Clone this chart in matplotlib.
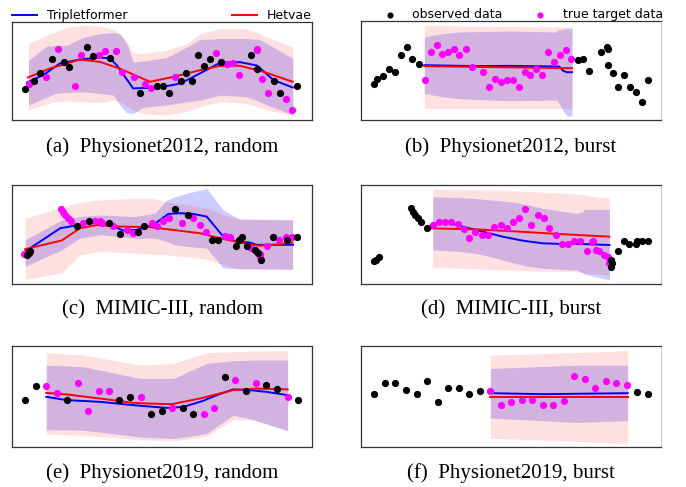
import matplotlib
matplotlib.use("Agg")
import matplotlib.pyplot as plt
import numpy as np

# ---- (a) Physionet2012, random ----
a_obs_t = [-0.6, 1, 2, 4, 6, 7, 10, 11, 14, 19, 22, 23, 24, 26, 27, 28, 29, 30, 31, 33, 38, 39.1, 42, 43, 46]
a_obs_y = [3.12, 4.0, 4.81, 6.27, 5.93, 5.36, 7.42, 6.51, 6.34, 2.71, 3.46, 3.46, 2.71, 4.0, 4.81, 4.0,
           6.68, 5.53, 6.27, 5.93, 6.68, 5.19, 4.0, 2.71, 3.46]
a_tgt_t = [0, 3, 5, 8, 9, 12, 13, 15, 16, 18, 20, 21, 25, 32, 34, 35, 36, 39, 39.1, 40, 41, 44, 45]
a_tgt_y = [3.63, 4.41, 7.22, 3.46, 6.68, 6.68, 7.05, 7.05, 4.92, 4.41, 3.63, 3.22, 4.41, 6.85, 5.76, 5.86,
           4.61, 7.12, 7.29, 4.2, 2.71, 2.14, 1.02]
a_blue_t = [-0.26, 2.49, 5.34, 8.77, 12.2, 13.9, 15.1, 17.9, 20.8, 23.6, 25.3, 27.1, 29.3, 32.8, 36.2, 39.1, 41.9, 45.2]
a_blue_y = [3.83, 4.58, 5.76, 6.17, 6.37, 6.3, 5.59, 3.22, 3.29, 3.46, 3.64, 4.07, 4.75, 5.86, 5.9, 5.56, 4.07, 3.32]
a_red_t = [-0.1, 3.63, 8.77, 12.2, 15.6, 20.8, 24.8, 29.3, 32.8, 36.2, 40.2, 45.2]
a_red_y = [4.34, 5.25, 6.17, 5.93, 5.25, 3.90, 4.41, 5.08, 5.53, 5.53, 4.92, 3.90]
a_band_t = [0, 3.06, 4.54, 6.49, 9.34, 12.2, 14.5, 15.6, 16.8, 17.9, 19.6, 23.6, 27.1, 29.3, 32.8, 37.3, 39.6, 40.8, 45.2]
a_bhi = [6.10, 7.53, 7.59, 7.63, 8.41, 8.81, 8.92, 8.81, 7.80, 5.90, 6.03, 6.37, 7.46, 8.20, 8.31, 8.31, 8.20, 7.80, 6.27]
a_blo = [1.53, 2.31, 2.71, 2.81, 2.88, 2.71, 2.54, 1.53, 0.75, 0.68, 1.29, 1.53, 1.86, 2.03, 2.54, 2.37, 1.86, 1.53, 0.51]
a_rhi = [7.80, 8.64, 8.98, 9.42, 9.66, 9.56, 9.22, 8.81, 7.97, 6.85, 6.78, 7.12, 7.80, 8.81, 9.32, 9.32, 8.81, 8.47, 7.46]
a_rlo = [1.02, 1.63, 1.86, 1.93, 1.86, 1.76, 2.03, 1.86, 1.42, 1.02, 0.61, 0.51, 0.85, 1.36, 1.86, 1.69, 1.29, 1.02, 0.51]

# ---- (b) Physionet2012, burst ----
b_obs_t = [0, 0.5, 1.5, 2.56, 3.5, 4.5, 5.57, 6.5, 7.56, 34.7, 35.6, 36.6, 38.6, 39.7, 39.8, 39.9, 40.6,
           41.6, 42.6, 43.6, 44.6, 45.6, 46.6]
b_obs_y = [3.62, 4.13, 4.46, 5.17, 4.87, 6.54, 7.38, 6.21, 5.70, 6.04, 6.21, 5.0, 6.88, 7.38, 7.21, 5.54, 4.70,
           3.29, 4.50, 3.29, 2.82, 1.78, 3.99]
b_tgt_t = [8.6, 9.6, 10.6, 11.5, 12.6, 13.6, 14.5, 15.6, 16.6, 18.6, 19.6, 20.6, 21.6, 22.6, 23.6, 24.6,
           25.6, 26.6, 27.6, 28.6, 29.6, 30.6, 31.6, 32.6, 33.6]
b_tgt_y = [3.99, 6.88, 7.62, 6.71, 6.88, 7.21, 6.54, 7.21, 5.37, 4.87, 3.29, 4.13, 3.86, 3.99, 3.99, 3.29,
           4.87, 4.50, 5.17, 4.50, 6.88, 5.87, 6.54, 7.05, 6.21]
b_blue_t = [8.52, 17.3, 23.0, 31.5, 32.2, 32.8, 33.7]
b_blue_y = [5.54, 5.44, 5.47, 5.40, 4.97, 4.83, 4.83]
b_red_t = [8.52, 20.2, 33.7]
b_red_y = [5.44, 5.34, 5.23]
b_bband_t = [8.52, 11.6, 14.5, 23.0, 31.0, 31.5, 32.1, 32.8, 33.7]
b_bhi = [8.39, 8.72, 8.89, 8.99, 8.89, 9.13, 9.19, 9.23, 9.23]
b_blo = [2.68, 2.35, 2.15, 1.95, 2.01, 1.68, 1.01, 0.40, 0.40]
b_rband_t = [8.52, 20.2, 31.5, 33.7]
b_rhi = [9.56, 9.46, 9.40, 9.40]
b_rlo = [1.17, 1.17, 1.17, 1.17]

# ---- (c) MIMIC-III, random ----
c_obs_t = [5.0, 5.8, 6.1, 21.8, 25.8, 32.2, 36.0, 42.1, 44.0, 54.3, 58.5, 66.5, 68.7, 74.8, 75.7, 76.8,
           78.2, 80.9, 82.0, 83.1, 87.0, 91.5, 95.1]
c_obs_y = [2.95, 3.12, 3.29, 5.81, 6.41, 6.14, 5.03, 5.23, 5.87, 7.55, 6.98, 4.40, 4.40, 3.86, 4.46, 4.73,
           3.86, 3.39, 3.12, 2.45, 4.73, 4.40, 4.73]
c_tgt_t = [4.1, 16.4, 17.0, 17.7, 18.6, 19.6, 23.8, 27.7, 29.4, 29.9, 33.8, 38.2, 40.2, 46.6, 48.4, 50.4,
           52.4, 56.5, 60.4, 62.6, 64.6, 71.0, 72.8, 79.8, 81.3, 82.6, 82.8, 85.0, 89.0, 91.2, 93.2]
c_tgt_y = [3.05, 7.55, 7.32, 6.98, 6.64, 6.41, 6.14, 6.41, 6.41, 6.21, 5.81, 5.47, 5.20, 6.14, 5.81, 6.41,
           6.64, 6.14, 6.64, 5.97, 5.30, 4.80, 4.73, 3.62, 3.29, 3.05, 2.72, 3.86, 4.46, 4.73, 4.73]
c_blue_t = [4.4, 16.1, 20.5, 24.9, 29.4, 32.7, 37.1, 41.6, 47.1, 52.1, 56.0, 60.4, 64.9, 70.4, 74.8, 79.3, 81.5, 93.7]
c_blue_y = [3.29, 5.64, 5.87, 6.14, 6.21, 5.97, 5.40, 5.47, 5.97, 7.08, 7.15, 7.08, 6.81, 4.80, 4.30, 4.19, 3.96, 3.96]
c_red_t = [4.4, 16.6, 22.7, 28.3, 34.9, 46.0, 51.6, 62.6, 69.3, 75.9, 82.6, 87.0, 93.5]
c_red_y = [3.52, 4.40, 5.64, 5.97, 5.81, 5.74, 5.54, 5.13, 4.63, 4.19, 3.86, 3.96, 4.19]
c_band_t = [4.4, 16.6, 22.7, 29.4, 40.9, 47.6, 51.6, 54.3, 58.2, 64.9, 70.4, 75.9, 93.5]
c_bhi = [4.46, 6.48, 6.80, 6.98, 6.81, 7.15, 8.49, 8.80, 9.16, 9.66, 7.48, 6.54, 6.48]
c_blo = [1.78, 3.46, 4.63, 4.97, 4.63, 4.63, 4.30, 3.96, 3.80, 3.62, 1.61, 1.55, 1.51]
c_rhi = [6.64, 7.75, 8.25, 8.50, 8.66, 8.60, 8.30, 8.15, 8.00, 7.70, 6.98, 6.60, 6.48]
c_rlo = [0.44, 1.11, 2.95, 3.29, 3.12, 3.00, 2.95, 2.85, 2.75, 2.50, 1.95, 1.50, 1.44]

# ---- (d) MIMIC-III, burst ----
d_obs_t = [4.4, 5.0, 5.9, 16.7, 17.2, 18.1, 19.0, 20.0, 22.0, 83.3, 83.7, 83.3, 85.6, 87.6, 89.4, 91.7,
           91.9, 93.7, 95.6]
d_obs_y = [2.36, 2.42, 2.69, 7.64, 7.31, 6.97, 6.63, 6.30, 5.62, 2.42, 2.09, 1.75, 3.37, 4.38, 4.04, 4.04,
           4.38, 4.38, 4.38]
d_tgt_t = [23.9, 26.1, 28.1, 30.0, 32.2, 34.2, 36.1, 38.1, 40.3, 42.4, 44.4, 46.7, 48.6, 50.6, 52.8, 54.8,
           56.7, 58.9, 60.9, 62.8, 65.0, 67.0, 69.0, 71.1, 73.1, 75.2, 77.0, 77.4, 78.3, 79.4, 81.1, 82.2, 82.6]
d_tgt_y = [5.96, 6.30, 6.30, 6.30, 6.06, 5.52, 4.61, 5.29, 4.95, 4.95, 5.72, 5.96, 5.62, 6.30, 6.63, 7.54,
           5.96, 6.97, 6.63, 5.62, 4.95, 4.04, 4.04, 4.38, 4.38, 3.37, 4.28, 4.38, 3.43, 3.37, 2.93, 2.69, 2.09]
d_blue_t = [23.3, 26.1, 29.4, 33.9, 40.6, 47.2, 53.9, 60.6, 67.2, 73.9, 82.8]
d_blue_y = [5.96, 6.20, 6.20, 5.79, 5.29, 4.78, 4.38, 4.11, 4.04, 4.04, 3.94]
d_red_t = [23.3, 38.3, 52.8, 66.1, 82.8]
d_red_y = [5.62, 5.52, 5.29, 5.05, 4.78]
d_band_t = [23.9, 32.8, 38.3, 43.9, 49.4, 55.0, 60.6, 71.7, 73.9, 74.4, 82.8]
d_bhi = [8.82, 8.72, 8.62, 8.48, 8.32, 8.05, 7.64, 7.14, 7.31, 7.54, 7.54]
d_blo = [3.43, 3.30, 3.10, 2.69, 2.26, 1.82, 1.58, 1.41, 1.14, 1.01, 0.40]
d_rhi = [9.56, 9.53, 9.49, 9.46, 9.43, 9.36, 9.29, 9.09, 9.02, 8.99, 8.65]
d_rlo = [1.68, 1.58, 1.52, 1.45, 1.41, 1.35, 1.28, 1.25, 1.14, 1.08, 0.91]

# ---- (e) Physionet2019, random ----
e_obs_t = [4.4, 8.0, 18.4, 35.8, 39.4, 46.3, 49.9, 56.9, 60.4, 71.0, 77.9, 84.8, 88.4, 95.3]
e_obs_y = [4.70, 6.06, 4.70, 4.70, 4.97, 3.31, 3.58, 3.84, 3.31, 6.89, 5.53, 6.13, 5.79, 4.70]
e_tgt_t = [11.4, 15.0, 22.0, 25.4, 29.0, 32.4, 42.9, 53.4, 64.0, 67.4, 74.4, 81.4, 91.9]
e_tgt_y = [6.06, 5.30, 6.36, 3.61, 5.53, 5.53, 4.97, 3.87, 3.31, 3.87, 6.62, 6.36, 4.97]
e_blue_t = [11.4, 18.3, 29.4, 40.5, 51.6, 57.1, 63.7, 68.2, 73.7, 79.3, 84.8, 91.9]
e_blue_y = [4.97, 4.64, 4.47, 4.14, 3.87, 3.97, 4.57, 5.13, 5.70, 5.63, 5.46, 5.13]
e_red_t = [11.4, 18.3, 29.4, 40.5, 46.0, 53.2, 62.6, 73.7, 81.5, 91.9]
e_red_y = [5.36, 5.20, 4.80, 4.37, 4.30, 4.24, 4.80, 5.63, 5.79, 5.70]
e_band_t = [11.4, 23.8, 42.7, 53.8, 64.9, 73.7, 80.4, 91.9]
e_bhi = [8.11, 7.95, 6.79, 6.79, 8.28, 8.54, 8.61, 8.61]
e_blo = [1.72, 1.66, 0.99, 0.83, 1.32, 3.15, 2.72, 1.59]
e_rhi = [9.34, 9.11, 8.11, 8.28, 9.34, 9.44, 9.50, 9.54]
e_rlo = [1.26, 1.16, 0.73, 0.60, 1.06, 2.72, 2.65, 1.70]

# ---- (f) Physionet2019, burst ----
f_obs_t = [4.4, 8.0, 11.4, 15.0, 18.6, 22.1, 25.6, 29.1, 32.6, 36.1, 39.6, 92.1, 95.6]
f_obs_y = [5.27, 6.33, 6.33, 5.67, 5.27, 6.53, 4.43, 5.87, 5.87, 5.27, 5.50, 5.43, 5.27]
f_tgt_t = [43.1, 46.7, 50.1, 53.7, 57.1, 60.7, 64.1, 67.7, 71.1, 74.7, 78.1, 81.7, 85.1, 88.7]
f_tgt_y = [5.50, 4.20, 4.43, 4.67, 4.67, 4.20, 4.20, 4.60, 7.00, 6.77, 5.87, 6.53, 6.33, 6.10]
f_blue_t = [43.1, 60.6, 88.9]
f_blue_y = [5.33, 5.23, 5.33]
f_red_t = [43.1, 88.9]
f_red_y = [5.0, 5.0]
f_band_t = [43.1, 71.7, 88.9]
f_bhi = [7.77, 8.10, 8.10]
f_blo = [2.87, 2.43, 2.60]
f_rhi = [9.10, 9.35, 9.53]
f_rlo = [0.87, 0.55, 0.33]

captions = ["(a)  Physionet2012, random", "(b)  Physionet2012, burst",
            "(c)  MIMIC-III, random", "(d)  MIMIC-III, burst",
            "(e)  Physionet2019, random", "(f)  Physionet2019, burst"]

panels = [
    dict(obs=(a_obs_t, a_obs_y), tgt=(a_tgt_t, a_tgt_y), blue=(a_blue_t, a_blue_y), red=(a_red_t, a_red_y),
         bband=(a_band_t, a_blo, a_bhi), rband=(a_band_t, a_rlo, a_rhi), xlim=(-2.83, 48.49)),
    dict(obs=(b_obs_t, b_obs_y), tgt=(b_tgt_t, b_tgt_y), blue=(b_blue_t, b_blue_y), red=(b_red_t, b_red_y),
         bband=(b_bband_t, b_blo, b_bhi), rband=(b_rband_t, b_rlo, b_rhi), xlim=(-2.27, 48.86)),
    dict(obs=(c_obs_t, c_obs_y), tgt=(c_tgt_t, c_tgt_y), blue=(c_blue_t, c_blue_y), red=(c_red_t, c_red_y),
         bband=(c_band_t, c_blo, c_bhi), rband=(c_band_t, c_rlo, c_rhi), xlim=(0, 100)),
    dict(obs=(d_obs_t, d_obs_y), tgt=(d_tgt_t, d_tgt_y), blue=(d_blue_t, d_blue_y), red=(d_red_t, d_red_y),
         bband=(d_band_t, d_blo, d_bhi), rband=(d_band_t, d_rlo, d_rhi), xlim=(0, 100)),
    dict(obs=(e_obs_t, e_obs_y), tgt=(e_tgt_t, e_tgt_y), blue=(e_blue_t, e_blue_y), red=(e_red_t, e_red_y),
         bband=(e_band_t, e_blo, e_bhi), rband=(e_band_t, e_rlo, e_rhi), xlim=(0, 100)),
    dict(obs=(f_obs_t, f_obs_y), tgt=(f_tgt_t, f_tgt_y), blue=(f_blue_t, f_blue_y), red=(f_red_t, f_red_y),
         bband=(f_band_t, f_blo, f_bhi), rband=(f_band_t, f_rlo, f_rhi), xlim=(0, 100)),
]

W, H = 686, 487
fig = plt.figure(figsize=(W / 100, H / 100), dpi=100)

# axes boxes in pixels: left, top, right, bottom
boxes = [(12, 22, 312, 120), (361, 21, 661, 120),
         (12, 185, 312, 284), (361, 185, 661, 284),
         (12, 346, 312, 447), (361, 346, 661, 447)]
cap_y = [147, 147, 310, 310, 473, 473]

axes = []
for i, p in enumerate(panels):
    l, t, r, b = boxes[i]
    ax = fig.add_axes([l / W, 1 - b / H, (r - l) / W, (b - t) / H])
    ax.fill_between(p["bband"][0], p["bband"][1], p["bband"][2], color="b", alpha=0.2, lw=0)
    ax.fill_between(p["rband"][0], p["rband"][1], p["rband"][2], color="r", alpha=0.12, lw=0)
    lb, = ax.plot(p["blue"][0], p["blue"][1], color="b", lw=1.4, label="Tripletformer")
    lr, = ax.plot(p["red"][0], p["red"][1], color="r", lw=1.4, label="Hetvae")
    st = ax.scatter(p["tgt"][0], p["tgt"][1], s=27, color="#ff00ff", lw=0, label="true target data", zorder=3)
    so = ax.scatter(p["obs"][0], p["obs"][1], s=27, color="k", lw=0, label="observed data", zorder=4)
    ax.set_xlim(p["xlim"])
    ax.set_ylim(0, 10)
    ax.set_xticks([])
    ax.set_yticks([])
    for s in ax.spines.values():
        s.set_color("#333333")
        s.set_linewidth(0.9)
    if i % 2 == 1:
        ax.spines["right"].set_color("#cccccc")
    fig.text(((l + r) / 2) / W, 1 - cap_y[i] / H, captions[i], ha="center", va="center",
             family="Liberation Serif", fontsize=15)
    axes.append((ax, lb, lr, so, st))

ax, lb, lr, so, st = axes[0]
ax.legend(handles=[lb, lr], loc="lower left", bbox_to_anchor=(0, 1.0, 1, 0.15), mode="expand", ncol=2,
          frameon=False, borderpad=0, borderaxespad=0, fontsize=9, handlelength=2, handletextpad=0.8)
ax, lb, lr, so, st = axes[1]
ax.legend(handles=[so, st], loc="lower left", bbox_to_anchor=(0.055, 1.0, 0.952, 0.15), mode="expand",
          ncol=2, frameon=False, borderpad=0, borderaxespad=0, fontsize=9, handlelength=2,
          handletextpad=0.8, scatterpoints=1, markerscale=0.85)

fig.savefig("out.png", dpi=100)
